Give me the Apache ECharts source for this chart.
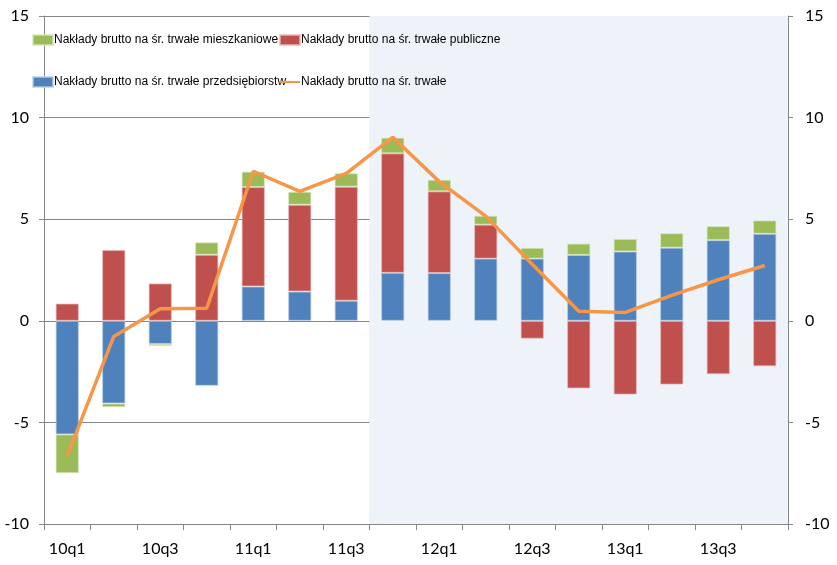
<!DOCTYPE html>
<html><head><meta charset="utf-8">
<script src="https://cdn.jsdelivr.net/npm/echarts@6/dist/echarts.min.js"></script>
<style>html,body{margin:0;padding:0;background:#fff}#c{width:837px;height:565px}</style>
</head><body><div id="c"></div>
<script>
const categories = ['10q1','10q2','10q3','10q4','11q1','11q2','11q3','11q4','12q1','12q2','12q3','12q4','13q1','13q2','13q3','13q4'];
const enterprise = [-5.59,-4.07,-1.14,-3.20,1.69,1.44,0.99,2.36,2.35,3.06,3.06,3.24,3.41,3.60,3.97,4.28];
const publicInv  = [0.85,3.48,1.84,3.25,4.89,4.27,5.61,5.88,4.02,1.67,-0.88,-3.33,-3.63,-3.14,-2.63,-2.24];
const housing    = [-1.91,-0.18,-0.10,0.61,0.76,0.64,0.66,0.77,0.57,0.44,0.53,0.56,0.62,0.71,0.69,0.66];
const total      = [-6.65,-0.77,0.59,0.62,7.36,6.37,7.26,9.03,6.85,5.15,2.78,0.47,0.41,1.25,2.02,2.72];
const yTicks = {min:-10, max:15, interval:5};
const shadeFrom = 7; // index of 11q4

const names = {
  housing: 'Nakłady brutto na śr. trwałe mieszkaniowe',
  pub: 'Nakłady brutto na śr. trwałe publiczne',
  ent: 'Nakłady brutto na śr. trwałe przedsiębiorstw',
  tot: 'Nakłady brutto na śr. trwałe'
};
const FONT = 'Lato';
const LFONT = '"Liberation Sans", Arial, sans-serif';
const chart = echarts.init(document.getElementById('c'), null, {renderer:'canvas'});
const legendBase = {orient:'horizontal', itemWidth:20, itemHeight:10, itemGap:2,
  textStyle:{fontFamily:LFONT, fontSize:12, color:'#000', padding:[0,0,0,-4]}, padding:0};
const yAxisCommon = {type:'value', min:yTicks.min, max:yTicks.max, interval:yTicks.interval,
  axisLine:{show:true, lineStyle:{color:'#868686', width:1}},
  axisTick:{show:true, inside:false, length:5, lineStyle:{color:'#868686'}},
  splitLine:{show:true, lineStyle:{color:'#868686', width:1}},
  axisLabel:{fontFamily:FONT, fontSize:16, color:'#000', margin:15}};
chart.setOption({
  animation:false,
  grid:{left:44, right:49, top:16, bottom:41, containLabel:false},
  legend:[
    Object.assign({}, legendBase, {data:[{name:names.housing, icon:'rect'}], left:32, top:34}),
    Object.assign({}, legendBase, {data:[{name:names.pub, icon:'rect'}], left:279, top:34}),
    Object.assign({}, legendBase, {data:[{name:names.ent, icon:'rect'}], left:32, top:76}),
    Object.assign({}, legendBase, {data:[{name:names.tot}], left:279, top:76, itemHeight:3})
  ],
  xAxis:[
    {type:'category', data:categories, boundaryGap:true,
     axisLine:{show:true, onZero:false, lineStyle:{color:'#868686'}},
     axisTick:{show:true, interval:0, length:6, lineStyle:{color:'#868686'}},
     axisLabel:{interval:1, fontFamily:FONT, fontSize:16, color:'#000', margin:17},
     splitLine:{show:false}},
    {type:'value', min:0, max:categories.length, show:false}
  ],
  yAxis:[
    Object.assign({}, yAxisCommon, {position:'left'}),
    Object.assign({}, yAxisCommon, {position:'right', splitLine:{show:false},
      axisLabel:{fontFamily:FONT, fontSize:16, color:'#000', margin:17}})
  ],
  series:[
    {type:'line', xAxisIndex:1, yAxisIndex:0, data:[], silent:true, z:0,
     markArea:{silent:true, itemStyle:{color:'#eef3fa'},
       data:[[{xAxis:shadeFrom},{xAxis:categories.length}]]}},
    {name:names.ent, type:'bar', stack:'s', data:enterprise, barWidth:'50%',
     itemStyle:{color:'#4f81bd', borderColor:'rgba(185,205,229,0.7)', borderWidth:1}},
    {name:names.pub, type:'bar', stack:'s', data:publicInv, barWidth:'50%',
     itemStyle:{color:'#c0504d', borderColor:'rgba(230,185,184,0.7)', borderWidth:1}},
    {name:names.housing, type:'bar', stack:'s', data:housing, barWidth:'50%',
     itemStyle:{color:'#9bbb59', borderColor:'rgba(215,228,189,0.7)', borderWidth:1}},
    {name:names.tot, type:'line', data:total, symbol:'none', z:5,
     lineStyle:{color:'#f79646', width:3.5}, itemStyle:{color:'#f79646'}}
  ]
});
</script></body></html>
